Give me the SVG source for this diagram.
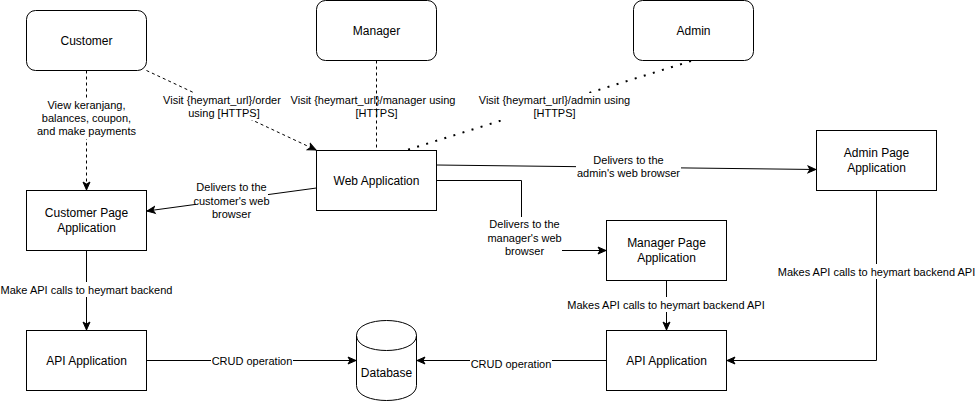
<svg xmlns="http://www.w3.org/2000/svg" width="975" height="401" viewBox="0 0 975 401">
<style>
.box{fill:#fff;stroke:#000;stroke-width:1}
.n{font-family:"Liberation Sans",Arial,sans-serif;font-size:12px;fill:#000;text-anchor:middle;dominant-baseline:central}
.e{font-family:"Liberation Sans",Arial,sans-serif;font-size:11px;fill:#000;text-anchor:middle;dominant-baseline:central}
.ln{fill:none;stroke:#000;stroke-width:1}
.dash{stroke-dasharray:3 3}
.dot{stroke-width:2;stroke-dasharray:2 7.5}
.bg{fill:#fff;stroke:none}
</style>
<defs>
<marker id="arr" markerUnits="userSpaceOnUse" markerWidth="10" markerHeight="10" viewBox="0 0 10 10" refX="9" refY="5" orient="auto">
<path d="M1,1.5 L9,5 L1,8.5 L3,5 Z" fill="#000" stroke="#000" stroke-width="1" stroke-dasharray="none"/>
</marker>
</defs>
<rect width="975" height="401" fill="#fff"/>
<g id="connectors">
<path class="ln dash" d="M86.5,70.5 V190" marker-end="url(#arr)"/>
<path class="ln dash" d="M146.5,70.5 L316,150" marker-end="url(#arr)"/>
<path class="ln dash" d="M376.5,60.5 V150.5"/>
<path class="ln dot" d="M691,61 L407,150"/>
<path class="ln" d="M316.5,188 L147,211" marker-end="url(#arr)"/>
<path class="ln" d="M436.5,165 L816,169.5" marker-end="url(#arr)"/>
<path class="ln" d="M436.5,180.5 H521.5 V250.5 H606" marker-end="url(#arr)"/>
<path class="ln" d="M86.5,250.5 V330" marker-end="url(#arr)"/>
<path class="ln" d="M146.5,360.5 H356" marker-end="url(#arr)"/>
<path class="ln" d="M606.5,360.5 H417" marker-end="url(#arr)"/>
<path class="ln" d="M666.5,280.5 V330" marker-end="url(#arr)"/>
<path class="ln" d="M876.5,190.5 V360.5 H727" marker-end="url(#arr)"/>
<g id="edge-labels">
<rect class="bg" x="36" y="98" width="101" height="41"/>
<text class="e" x="86.5" y="104.8">View keranjang,</text>
<text class="e" x="86.5" y="118">balances, coupon,</text>
<text class="e" x="86.5" y="131.2">and make payments</text>
<rect class="bg" x="162" y="93" width="121" height="27"/>
<text class="e" x="222" y="99.9">Visit {heymart_url}/order</text>
<text class="e" x="224" y="113.1">using [HTTPS]</text>
<text class="e" x="373" y="99.9">Visit {heymart_url}/manager using</text>
<text class="e" x="376.5" y="113.1">[HTTPS]</text>
<rect class="bg" x="478" y="93" width="154" height="27"/>
<text class="e" x="554.5" y="99.9">Visit {heymart_url}/admin using</text>
<text class="e" x="554.5" y="113.1">[HTTPS]</text>
<rect class="bg" x="196" y="180" width="72" height="41"/>
<text class="e" x="231.5" y="187.3">Delivers to the</text>
<text class="e" x="231.5" y="200.5">customer's web</text>
<text class="e" x="231.5" y="213.7">browser</text>
<rect class="bg" x="576" y="153" width="105" height="28"/>
<text class="e" x="628.5" y="160.2">Delivers to the</text>
<text class="e" x="628.5" y="173.4">admin's web browser</text>
<rect class="bg" x="488" y="217" width="74" height="41"/>
<text class="e" x="524.5" y="224.3">Delivers to the</text>
<text class="e" x="524.5" y="237.5">manager's web</text>
<text class="e" x="524.5" y="250.7">browser</text>
<rect class="bg" x="0" y="282" width="173" height="15"/>
<text class="e" x="86.5" y="289.5">Make API calls to heymart backend</text>
<rect class="bg" x="564" y="297" width="204" height="15"/>
<text class="e" x="666" y="304.5">Makes API calls to heymart backend API</text>
<rect class="bg" x="777" y="264" width="198" height="15"/>
<text class="e" x="876.5" y="271.5">Makes API calls to heymart backend API</text>
<rect class="bg" x="211" y="353" width="82" height="14"/>
<text class="e" x="252" y="360.5">CRUD operation</text>
<rect class="bg" x="470" y="357" width="82" height="14"/>
<text class="e" x="511" y="364">CRUD operation</text>
</g>
</g>
<g id="customer"><rect class="box" x="26.5" y="10.5" width="120" height="60" rx="9"/><text class="n" x="86.5" y="40.5">Customer</text></g>
<g id="manager"><rect class="box" x="316.5" y="0.5" width="120" height="60" rx="9"/><text class="n" x="376.5" y="30.5">Manager</text></g>
<g id="admin"><rect class="box" x="633.5" y="0.5" width="120" height="60" rx="9"/><text class="n" x="693.5" y="30.5">Admin</text></g>
<g id="web-app"><rect class="box" x="316.5" y="150.5" width="120" height="60"/><text class="n" x="376.5" y="180.5">Web Application</text></g>
<g id="customer-page"><rect class="box" x="26.5" y="190.5" width="120" height="60"/><text class="n" x="86.5" y="213.3">Customer Page</text><text class="n" x="86.5" y="227.7">Application</text></g>
<g id="admin-page"><rect class="box" x="816.5" y="130.5" width="120" height="60"/><text class="n" x="876.5" y="153.3">Admin Page</text><text class="n" x="876.5" y="167.7">Application</text></g>
<g id="manager-page"><rect class="box" x="606.5" y="220.5" width="120" height="60"/><text class="n" x="666.5" y="243.3">Manager Page</text><text class="n" x="666.5" y="257.7">Application</text></g>
<g id="api-left"><rect class="box" x="26.5" y="330.5" width="120" height="60"/><text class="n" x="86.5" y="360.5">API Application</text></g>
<g id="api-right"><rect class="box" x="606.5" y="330.5" width="120" height="60"/><text class="n" x="666.5" y="360.5">API Application</text></g>
<g id="database">
<path class="box" d="M356.5,335.5 C356.5,315.5 416.5,315.5 416.5,335.5 L416.5,385.5 C416.5,405.5 356.5,405.5 356.5,385.5 Z"/>
<path class="ln" d="M356.5,335.5 C356.5,355.5 416.5,355.5 416.5,335.5"/>
<text class="n" x="386.5" y="373">Database</text>
</g>
</svg>
